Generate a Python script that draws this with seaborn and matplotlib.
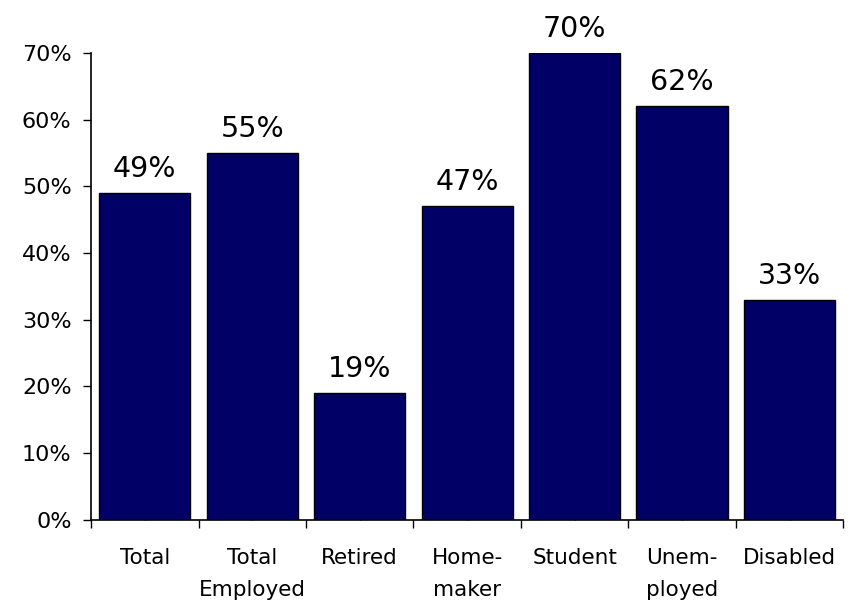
import numpy as np
import pandas as pd
import matplotlib.pyplot as plt
import seaborn as sns

plt.switch_backend('Agg')

# data
categories = ["Total", "Total\nEmployed", "Retired", "Home-\nmaker", "Student", "Unem-\nployed", "Disabled"]
values = [49, 55, 19, 47, 70, 62, 33]

df = pd.DataFrame({"group": categories, "pct": values})

sns.set_style("white")
plt.rcParams['font.family'] = ['DejaVu Sans']
plt.rcParams['text.color'] = 'black'
plt.rcParams['xtick.color'] = 'black'
plt.rcParams['ytick.color'] = 'black'

fig = plt.figure(figsize=(8.51, 6.08), dpi=100)
ax = fig.add_axes([0.107, 0.145, 0.884, 0.768])

sns.barplot(data=df, x="group", y="pct", color="#000066", edgecolor="black",
            linewidth=1, width=0.85, saturation=1, ax=ax)

ax.set_ylim(0, 70)
ax.set_xlim(-0.5, len(categories) - 0.5)
ax.set_yticks(np.arange(0, 71, 10))
ax.set_yticklabels([f"{v}%" for v in range(0, 71, 10)], fontsize=16)
ax.set_xticklabels(categories, fontsize=15.5, linespacing=1.75)
ax.set_xlabel("")
ax.set_ylabel("")

# small inward ticks at bar centres, outward ticks between categories
ax.set_xticks(np.arange(-0.5, len(categories), 1), minor=True)
ax.tick_params(axis='x', which='major', direction='in', length=4.5, width=1,
               color='black', pad=20, bottom=True)
ax.tick_params(axis='x', which='minor', direction='out', length=6, width=1,
               color='black', bottom=True)
ax.tick_params(axis='y', direction='out', length=6, width=1, color='black',
               left=True, pad=8)

for s in ["top", "right"]:
    ax.spines[s].set_visible(False)
for s in ["left", "bottom"]:
    ax.spines[s].set_color("black")
    ax.spines[s].set_linewidth(1.2)

# value labels
for i, v in enumerate(values):
    ax.text(i, v + 1.5, f"{v}%", ha="center", va="bottom", fontsize=20.5, clip_on=False)

fig.savefig("out.png", dpi=100)
